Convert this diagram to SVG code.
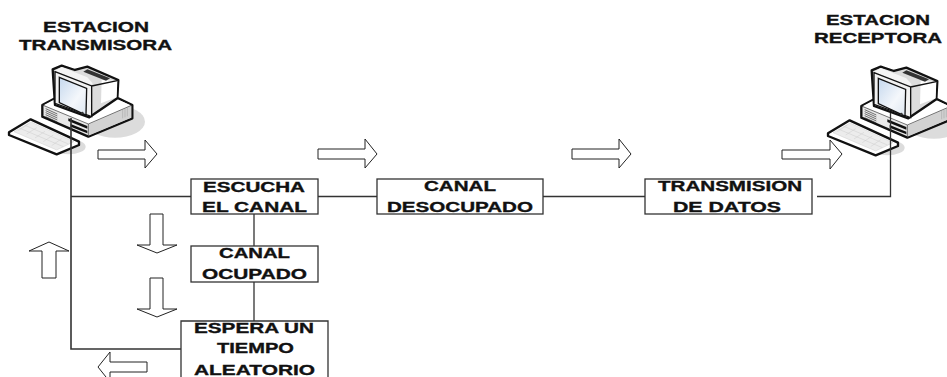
<svg xmlns="http://www.w3.org/2000/svg" width="947" height="377" viewBox="0 0 947 377">
<style>
text{font-family:"Liberation Sans",Arial,sans-serif;font-weight:700;font-size:15px;fill:#111;stroke:#111;stroke-width:.35}
.box{fill:#fff;stroke:#333;stroke-width:1.3}
.ln{fill:none;stroke:#333;stroke-width:1.3}
.ar{fill:#fff;stroke:#222;stroke-width:1}
.o{stroke:#111;stroke-width:7;stroke-linejoin:round}
.t{fill:none;stroke:#333;stroke-width:2}
</style>
<defs>
<linearGradient id="scr" x1="0" y1="0" x2="1" y2="1"><stop offset="0" stop-color="#c5d8ee"/><stop offset=".6" stop-color="#f4f7fb"/><stop offset="1" stop-color="#dde6f0"/></linearGradient>
<g id="pc" transform="scale(.3333)">
<ellipse cx="345" cy="365" rx="90" ry="48" fill="#dcdcdc"/>
<ellipse cx="205" cy="440" rx="52" ry="23" fill="#dcdcdc"/>
<path class="o" fill="#e8e8e8" d="M127 315 165 295 355 295 397 315 397 355 265 410 127 350Z"/>
<path fill="#fff" d="M132 315 165 298 352 298 392 316 265 372Z"/>
<path fill="#d2d2d2" d="M265 374 394 318 394 353 265 407Z"/>
<path class="t" d="M127 315 265 372 397 315M265 372V410"/>
<path class="t" d="M137 326 172 342M137 332 172 348M137 338 172 354M137 344 172 360M137 350 172 366"/>
<path fill="#111" d="M205 355 262 378 262 386 205 363ZM212 372 262 392 262 400 212 380Z"/>
<path stroke="#aaa" stroke-width="2" fill="none" d="M368 330V355M375 327V352M382 324V349"/>
<path class="o" fill="#dcdcdc" d="M158 208 185 197 225 210 262 200 355 240 352 295 268 352 165 315Z"/>
<path fill="#f4f4f4" d="M165 212 185 201 262 232 278 250 270 258Z"/>
<path fill="#fff" d="M305 240 352 243 350 292 303 310Z"/>
<path fill="#f2f2f2" d="M165 215 275 258 275 350 165 310Z"/>
<path fill="none" stroke="#111" stroke-width="4" d="M165 215 275 258 275 350 165 310ZM275 258 352 242"/>
<path fill="url(#scr)" stroke="#111" stroke-width="4" d="M178 232 260 265 258 345 178 308Z"/>
<path fill="#333" d="M250 215 262 208 330 235 318 242Z"/>
<circle cx="247" cy="339" r="4" fill="#333"/>
<path class="o" fill="#fff" d="M27 397 92 358 237 425 237 435 170 463 27 405Z"/>
<path fill="#ececec" stroke="#bbb" stroke-width="1" d="M42 395 93 366 222 425 170 450Z"/>
<path fill="none" stroke="#ccc" stroke-width="1.500" d="M60 385 190 440M75 376 205 432M85 372 55 392M110 383 80 402M135 394 105 414M160 405 130 425M185 416 155 437"/>
</g>
</defs>
<g id="estacion-transmisora">
<use href="#pc"/>
<text x="43" y="32" textLength="106" lengthAdjust="spacingAndGlyphs">ESTACION</text>
<text x="19" y="50" textLength="153" lengthAdjust="spacingAndGlyphs">TRANSMISORA</text>
</g>
<g id="estacion-receptora">
<use href="#pc" transform="translate(819 1)"/>
<text x="826" y="25" textLength="104" lengthAdjust="spacingAndGlyphs">ESTACION</text>
<text x="814" y="43" textLength="128" lengthAdjust="spacingAndGlyphs">RECEPTORA</text>
</g>
<g id="connectors">
<path class="ln" style="stroke-width:1.600" d="M71 118V349H181M71 196.500H191"/>
<path class="ln" d="M318 196.500H377M543 196.500H645M817 196.500H890.500V113M254 214V246M254 282V321"/>
</g>
<g id="arrows">
<path class="ar" d="M98 150H145V140L157 154 145 168V159H98Z"/>
<path class="ar" d="M318 149H365V139L377 154 365 168V159H318Z"/>
<path class="ar" d="M572 149H619V139L631 154 619 168V159H572Z"/>
<path class="ar" d="M782 150H830V140L842 154 830 169V159H782Z"/>
<path class="ar" d="M150 214H163V245L177 245 157 253 137 245H150Z"/>
<path class="ar" d="M150 278H163V309L177 309 157 317 137 309H150Z"/>
<path class="ar" d="M42 278H56V251H69L49 242 29 251H42Z"/>
<path class="ar" d="M147 362H110V352L98 367 110 382V372H147Z"/>
</g>
<g id="escucha">
<rect class="box" x="191" y="179" width="127" height="35"/>
<text x="203" y="192" textLength="102" lengthAdjust="spacingAndGlyphs">ESCUCHA</text>
<text x="202" y="212" textLength="105" lengthAdjust="spacingAndGlyphs">EL CANAL</text>
</g>
<g id="canal-ocupado">
<rect class="box" x="191" y="246" width="127" height="36"/>
<text x="219" y="258" textLength="71" lengthAdjust="spacingAndGlyphs">CANAL</text>
<text x="202" y="279" textLength="105" lengthAdjust="spacingAndGlyphs">OCUPADO</text>
</g>
<g id="espera">
<path class="box" d="M181 378V321H328V378Z"/>
<text x="194" y="333" textLength="120" lengthAdjust="spacingAndGlyphs">ESPERA UN</text>
<text x="217" y="353" textLength="77" lengthAdjust="spacingAndGlyphs">TIEMPO</text>
<text x="194" y="374.500" textLength="121" lengthAdjust="spacingAndGlyphs">ALEATORIO</text>
</g>
<g id="canal-desocupado">
<rect class="box" x="377" y="179" width="166" height="35"/>
<text x="424" y="191" textLength="72" lengthAdjust="spacingAndGlyphs">CANAL</text>
<text x="387" y="212" textLength="146" lengthAdjust="spacingAndGlyphs">DESOCUPADO</text>
</g>
<g id="transmision">
<rect class="box" x="645" y="179" width="167" height="35"/>
<text x="658" y="191" textLength="144" lengthAdjust="spacingAndGlyphs">TRANSMISION</text>
<text x="673" y="212" textLength="108" lengthAdjust="spacingAndGlyphs">DE DATOS</text>
</g>
</svg>
